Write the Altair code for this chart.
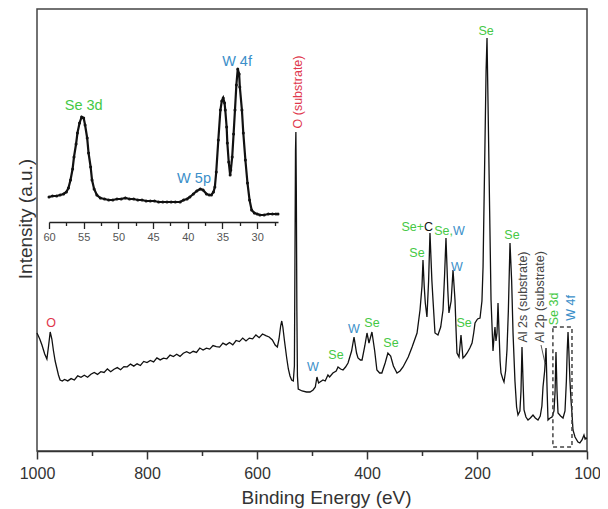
import altair as alt
import pandas as pd

FONT = "Liberation Sans"
GREEN = "#45c845"
BLUE = "#3b8fc9"
RED = "#e0364c"
GRAYTXT = "#444444"

# ---------------- main survey spectrum (binding energy eV, intensity a.u.) ----------------
MAIN_EV = [1000, 995, 991, 986, 982, 979, 976, 973, 970, 967, 964, 961, 958, 954,
           950, 944, 938, 932, 926, 920, 914, 908, 902, 896, 890, 884, 878, 872, 866, 860,
           854, 848, 842, 836, 830, 824, 818, 812, 806, 800, 794, 788, 782, 776, 770, 764,
           758, 752, 746, 740, 734, 728, 722, 716, 710, 704, 698, 692, 686, 680, 674, 668,
           662, 656, 650, 644, 638, 632, 626, 620, 614, 608, 602, 596, 590, 584,
           578, 572, 567, 563, 560, 557, 555, 553, 550, 546, 543, 540, 537, 534, 532, 531,
           530, 529.3, 528.5, 527.5, 526.5, 525, 518, 510, 503.6, 498, 494, 491, 488, 485.5,
           480, 476, 471, 468, 462, 456, 452.7, 448, 443.6, 439, 434.5, 428, 423.6, 419,
           416.4, 412, 409, 404, 400, 396.4, 391, 386, 382, 377, 373, 367, 362, 357, 352,
           345.5, 340, 334.5, 325, 318, 309, 303.6, 300, 298.2, 296, 294, 291, 288, 285.5,
           282, 280, 276.4, 271, 266, 261.8, 259, 256.4, 253, 251, 247, 243.6, 240, 238,
           236.4, 232.7, 229.1, 225.5, 222, 218, 213, 209, 206, 203.6, 199, 194.5, 191, 189,
           186, 183.5, 181.8, 180, 177, 174.5, 172, 170.9, 169, 167.3, 165.5, 163.6, 161.8,
           160, 158, 156.4, 153, 150.9, 148, 145.5, 143, 140, 137, 134.5, 131, 128, 125.5,
           122, 120, 118.2, 116, 114.5, 111, 107.3, 103, 98.2, 94, 89.1, 85, 82, 80, 77,
           74.5, 72.5, 70.9, 67, 63.6, 60, 58, 56.4, 54.5, 52.7, 48, 43.6, 40, 37.5, 36,
           34.5, 33, 31, 29.1, 27, 25.5, 21.8, 16.4, 13, 9.1, 5.5, 3.5, 1.8, 0.5]
MAIN_I = [118, 112, 106, 97, 92, 105, 119, 112, 100, 90, 83, 76, 71, 70,
          71.6, 70.1, 72.4, 71.0, 75.2, 73.7, 75.8, 73.7, 76.7, 78.6, 76.6, 79.3, 78.5, 82.1, 79.3, 81.8,
          83.4, 81.3, 84.4, 84.2, 86.9, 84.9, 87.2, 85.5, 89.6, 88.4, 90.5, 89.1, 93.1, 91.1, 92.8, 92.2,
          95.9, 94.5, 96.7, 94.6, 97.8, 99.3, 97.7, 99.7, 98.6, 103.0, 101.0, 102.9, 101.9, 105.4, 104.4, 103.9,
          107.9, 106.1, 108.5, 106.2, 110.5, 109.4, 112.9, 110.0, 112.9, 112.2, 116.1, 113.3, 117.0, 115.3,
          114, 111, 106, 104, 112, 125, 130, 124, 110, 93, 82, 75, 71, 70, 85, 190,
          300, 319, 260, 140, 75, 62, 60, 59, 59, 61, 64, 74, 68, 69,
          71, 70, 76, 74, 78, 80, 84, 82, 81, 84, 88, 100, 114, 98,
          93, 91, 91, 105, 118, 108, 119, 100, 81, 78, 78, 88, 98, 95, 85,
          78, 80, 84, 94, 104, 118, 141, 165, 191, 165, 148, 134, 170, 218,
          170, 151, 118, 116, 124, 141, 175, 213, 160, 138, 150, 181, 151, 120,
          98, 94, 116, 93, 95, 98, 103, 108, 118, 128, 132, 133, 150, 184,
          290, 380, 413, 350, 240, 151, 115, 100, 114, 124, 110, 118, 148,
          120, 90, 78, 72, 69, 80, 101, 140, 208, 170, 118, 70, 44, 36,
          40, 60, 104, 65, 41, 34, 31, 33, 36, 33, 31, 35, 45, 64, 80,
          103, 60, 31, 33, 34, 40, 60, 99, 60, 38, 35, 33, 40, 70, 100,
          119, 100, 70, 51, 35, 21, 14, 9, 8, 11, 16, 12, 13, 12]

# ---------------- inset: high-resolution Se 3d / W 4f region ----------------
INSET_EV = [60.0, 59.5, 58.9, 58.4, 57.9, 57.5, 57.2, 56.9, 56.6, 56.4, 56.1, 55.9, 55.6, 55.3,
            55.0, 54.8, 54.5, 54.3, 54.0, 53.8, 53.5, 53.1, 52.6, 52.0, 51.4, 50.8, 50.2, 49.6,
            49.0, 48.4, 47.8, 47.2, 46.6, 46.0, 45.4, 44.8, 44.2, 43.6, 43.0, 42.4, 41.8, 41.1,
            40.6, 40.1, 39.7, 39.2, 38.7, 38.2, 37.8, 37.3, 36.9, 36.6, 36.3, 36.1, 35.9, 35.6,
            35.3, 35.1, 34.9, 34.7, 34.6, 34.4, 34.3, 34.1, 33.9, 33.8, 33.6, 33.4, 33.2, 33.0,
            32.8, 32.6, 32.5, 32.2, 32.0, 31.7, 31.4, 31.1, 30.8, 30.4, 30.0, 29.6, 29.0, 28.4,
            27.8, 27.3, 27.0]
INSET_I = [25, 26, 26, 27, 28, 30, 34, 42, 53, 65, 78, 89, 99, 105,
           104, 97, 84, 69, 55, 42, 33, 27, 24, 23, 22, 22, 23, 23,
           24, 23, 23, 22, 22, 21, 21, 21, 20, 20, 20, 20, 20, 20,
           22, 23, 25, 28, 31, 33, 32, 28, 27, 27, 30, 35, 50, 82,
           112, 121, 124, 119, 112, 95, 79, 60, 47, 52, 65, 88, 112, 137,
           153, 148, 135, 112, 89, 62, 39, 22, 12, 9, 8, 7, 7, 8,
           8, 8, 8]

# ---------------- axes ticks ----------------
MAIN_TICKS = [1000, 900, 800, 700, 600, 500, 400, 300, 200, 100, 0]
MAIN_MAJOR = [1000, 800, 600, 400, 200, 0]
MAIN_TICK_LABELS = ["1000", "800", "600", "400", "200", "100"]
INSET_TICKS = [60, 57.5, 55, 52.5, 50, 47.5, 45, 42.5, 40, 37.5, 35, 32.5, 30, 27.5]
INSET_MAJOR = [60, 55, 50, 45, 40, 35, 30]
INSET_TICK_LABELS = ["60", "55", "50", "45", "40", "35", "30"]

# ---------------- peak labels (main) ----------------
LBL_TEXT = ["O", "O (substrate)", "Se", "Se+", "C", "Se,", "W", "Se", "W", "Se", "Se",
            "W", "Se", "W", "Se", "Se", "Al 2s (substrate)", "Al 2p (substrate)", "Se 3d", "W 4f"]
LBL_EV = [974.5, 525.5, 183.6, 296.4, 296.4, 243.6, 243.6, 309.1, 236.4, 223.6, 136.4,
          498.2, 456.4, 423.6, 390.9, 356.4, 116.4, 85.5, 60.0, 29.1]
LBL_I = [128, 359, 420, 224, 224, 220, 220, 198, 184, 128, 216,
         84, 96, 122, 128, 108, 154, 154, 142, 143]
LBL_COLOR = [RED, RED, GREEN, GREEN, "#111111", GREEN, BLUE, GREEN, BLUE, GREEN, GREEN,
             BLUE, GREEN, BLUE, GREEN, GREEN, GRAYTXT, GRAYTXT, GREEN, BLUE]
LBL_ANGLE = [0, 270, 0, 0, 0, 0, 0, 0, 0, 0, 0, 0, 0, 0, 0, 0, 270, 270, 270, 270]
LBL_ALIGN = ["center", "center", "center", "right", "left", "right", "left", "center", "center",
             "center", "center", "center", "center", "center", "center", "center",
             "center", "center", "center", "center"]

# leader line to Al 2p peak, dashed box around Se 3d / W 4f
LEADER_EV = [83.6]
LEADER_EV2 = [76.4]
LEADER_I = [106]
LEADER_I2 = [88]
BOX_EV = [62]
BOX_EV2 = [27.3]
BOX_I = [124]
BOX_I2 = [4]

# ---------------- inset labels ----------------
ILBL_TEXT = ["Se 3d", "W 5p", "W 4f"]
ILBL_EV = [55.0, 39.1, 32.9]
ILBL_I = [116, 43, 160]
ILBL_COLOR = [GREEN, BLUE, BLUE]


def label_expr(values, labels):
    expr = "''"
    for v, l in reversed(list(zip(values, labels))):
        expr = f"datum.value == {v} ? '{l}' : ({expr})"
    return expr


main_df = pd.DataFrame({"ev": MAIN_EV, "i": MAIN_I})
inset_df = pd.DataFrame({"ev": INSET_EV, "i": INSET_I})
lbl_df = pd.DataFrame({"text": LBL_TEXT, "ev": LBL_EV, "i": LBL_I, "color": LBL_COLOR,
                       "angle": LBL_ANGLE, "align": LBL_ALIGN})
leader_df = pd.DataFrame({"ev": LEADER_EV, "ev2": LEADER_EV2, "i": LEADER_I, "i2": LEADER_I2})
box_df = pd.DataFrame({"ev": BOX_EV, "ev2": BOX_EV2, "i": BOX_I, "i2": BOX_I2})
ilbl_df = pd.DataFrame({"text": ILBL_TEXT, "ev": ILBL_EV, "i": ILBL_I, "color": ILBL_COLOR})

main_major_test = "indexof([" + ",".join(str(v) for v in MAIN_MAJOR) + "], datum.value) >= 0"
inset_major_test = "indexof([" + ",".join(str(v) for v in INSET_MAJOR) + "], datum.value) >= 0"

x_main = alt.X("ev:Q", scale=alt.Scale(domain=[1000, 0], nice=False, zero=False),
               axis=alt.Axis(values=MAIN_TICKS, labelExpr=label_expr(MAIN_MAJOR, MAIN_TICK_LABELS),
                             tickSize={"condition": {"test": main_major_test, "value": 8}, "value": 4.5},
                             tickWidth=1.5, tickColor="#333333", domainColor="#333333", domainWidth=1.5,
                             labelFontSize=16, labelColor="#333333", labelPadding=6, labelOverlap=False,
                             labelFlush=False,
                             title="Binding Energy (eV)", titleFontSize=19, titleColor="#333333",
                             titleX=289, titleY=46, titleBaseline="middle", titleAlign="center",
                             grid=False))
y_main = alt.Y("i:Q", scale=alt.Scale(domain=[0, 442], nice=False, zero=False),
               axis=alt.Axis(labels=False, ticks=False, domain=False, grid=False,
                             title="Intensity (a.u.)", titleFontSize=19, titleColor="#333333",
                             titleX=-12, titleY=209.5, titleBaseline="middle", titleAlign="center"))

spec_line = alt.Chart(main_df).mark_line(color="#111111", strokeWidth=1.3).encode(
    x=x_main, y=y_main, order=alt.Order("ev:Q", sort="descending"))


def text_layer(align):
    return alt.Chart(lbl_df).transform_filter(alt.datum.align == align).mark_text(
        font=FONT, fontSize=12.5, align=align, baseline="middle").encode(
        x=alt.X("ev:Q"), y=alt.Y("i:Q"), text="text:N",
        color=alt.Color("color:N", scale=None), angle=alt.Angle("angle:Q", scale=None))


leader = alt.Chart(leader_df).mark_rule(color="#555555", strokeWidth=1).encode(
    x="ev:Q", x2="ev2:Q", y="i:Q", y2="i2:Q")
box = alt.Chart(box_df).mark_rect(fillOpacity=0, stroke="#444444", strokeWidth=1.5,
                                  strokeDash=[4, 3]).encode(x="ev:Q", x2="ev2:Q", y="i:Q", y2="i2:Q")

main_layer = alt.layer(spec_line, box, leader, text_layer("center"), text_layer("right"),
                       text_layer("left"))

# inset layer with its own scales placed in pixel range of the plot area
x_inset = alt.X("ev:Q", scale=alt.Scale(domain=[60, 27], range=[12, 241], nice=False, zero=False),
                axis=alt.Axis(orient="bottom", offset=-229, values=INSET_TICKS,
                              labelExpr=label_expr(INSET_MAJOR, INSET_TICK_LABELS),
                              tickSize={"condition": {"test": inset_major_test, "value": 6.5}, "value": 3.5},
                              tickWidth=1.3, tickColor="#222222", domainColor="#222222", domainWidth=1.5,
                              labelFontSize=11, labelColor="#555555", labelPadding=3, labelOverlap=False,
                              labelFlush=False, title=None, grid=False))
y_inset = alt.Y("i:Q", scale=alt.Scale(domain=[0, 200], range=[213, 13], nice=False, zero=False),
                axis=None)

inset_line = alt.Chart(inset_df).mark_line(
    color="#111111", strokeWidth=2.2,
    point=alt.OverlayMarkDef(filled=True, size=9, color="#111111")).encode(
    x=x_inset, y=y_inset, order=alt.Order("ev:Q", sort="descending"))
inset_text = alt.Chart(ilbl_df).mark_text(font=FONT, fontSize=14.5, align="center",
                                          baseline="middle").encode(
    x=alt.X("ev:Q"), y=alt.Y("i:Q"), text="text:N", color=alt.Color("color:N", scale=None))
inset_layer = alt.layer(inset_line, inset_text)

chart = alt.layer(main_layer, inset_layer).resolve_scale(x="independent", y="independent").properties(
    width=550, height=442, autosize=alt.AutoSizeParams(type="none"),
    padding={"left": 29, "top": 1, "right": 13, "bottom": 58}
).configure_view(stroke="#444444", strokeWidth=1.5).configure_axis(
    labelFont=FONT, titleFont=FONT, titleFontWeight="normal", grid=False)

chart.save("out.html", embed_options={"renderer": "svg", "actions": False})
